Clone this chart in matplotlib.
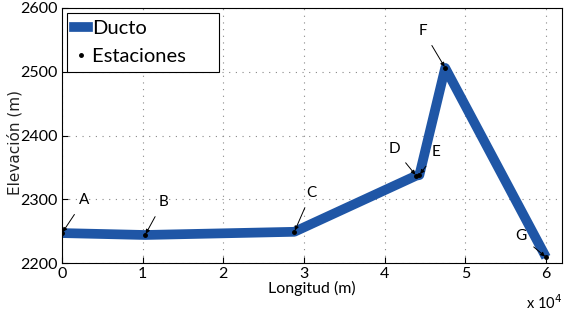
import matplotlib
matplotlib.use("Agg")
import matplotlib.pyplot as plt
from matplotlib.lines import Line2D

# Estaciones del ducto
estaciones = ["A", "B", "C", "D", "E", "F", "G"]
longitud = [0, 10300, 28800, 43900, 44300, 47500, 60000]
elevacion = [2247, 2244, 2249, 2337, 2338, 2506, 2209]
# desplazamiento de las etiquetas (pixeles)
offsets = [(22, 33), (18, 33), (17, 39), (-22, 27), (17, 23), (-22, 37), (-25, 21)]

xticks = [0, 10000, 20000, 30000, 40000, 50000, 60000]
xticklabels = ["0", "1", "2", "3", "4", "5", "6"]
yticks = [2200, 2300, 2400, 2500, 2600]

plt.rcParams['font.family'] = ['Lato', 'DejaVu Sans']
azul = "#1f56a6"

fig = plt.figure(figsize=(5.69, 3.2), dpi=100)
ax = fig.add_axes([0.109, 0.178, 0.879, 0.797])

ax.plot(longitud, elevacion, color=azul, linewidth=7, solid_capstyle="butt", zorder=2)
ax.plot(longitud, elevacion, "k.", markersize=5, zorder=3)

for nombre, x, y, (dx, dy) in zip(estaciones, longitud, elevacion, offsets):
    ax.annotate(nombre, xy=(x, y), xytext=(dx, dy), textcoords="offset pixels",
                ha="center", va="center", fontsize=11,
                arrowprops=dict(arrowstyle="-|>", color="black", lw=0.7,
                                mutation_scale=6, shrinkA=4, shrinkB=1))

ax.set_xlim(0, 62000)
ax.set_ylim(2200, 2600)
ax.set_xticks(xticks)
ax.set_xticklabels(xticklabels)
ax.set_yticks(yticks)
ax.tick_params(direction="in", labelsize=11.5, length=4, pad=3)
ax.grid(True, linestyle=(0, (1, 5)), color="#888888", linewidth=0.8)
for s in ax.spines.values():
    s.set_linewidth(0.8)

ax.set_xlabel("Longitud (m)", fontsize=11.5, labelpad=0)
ax.set_ylabel("Elevación (m)", fontsize=11, family="DejaVu Sans", color="#222222")
ax.yaxis.set_label_coords(-0.08, 0.473)
fig.text(0.925, 0.055, r"x 10$^{4}$", fontsize=10.5, ha="left", va="center")

handles = [Line2D([], [], color=azul, linewidth=7),
           Line2D([], [], color="black", marker=".", linestyle="none", markersize=5)]
leg = ax.legend(handles, ["Ducto", "Estaciones     "], loc="upper left", fontsize=14.5,
                handlelength=0.7, handletextpad=0.2, borderpad=0.35, labelspacing=0.55,
                fancybox=False, framealpha=1, edgecolor="black", borderaxespad=0.25)
leg.get_frame().set_linewidth(0.8)

fig.savefig("out.png", dpi=100)
